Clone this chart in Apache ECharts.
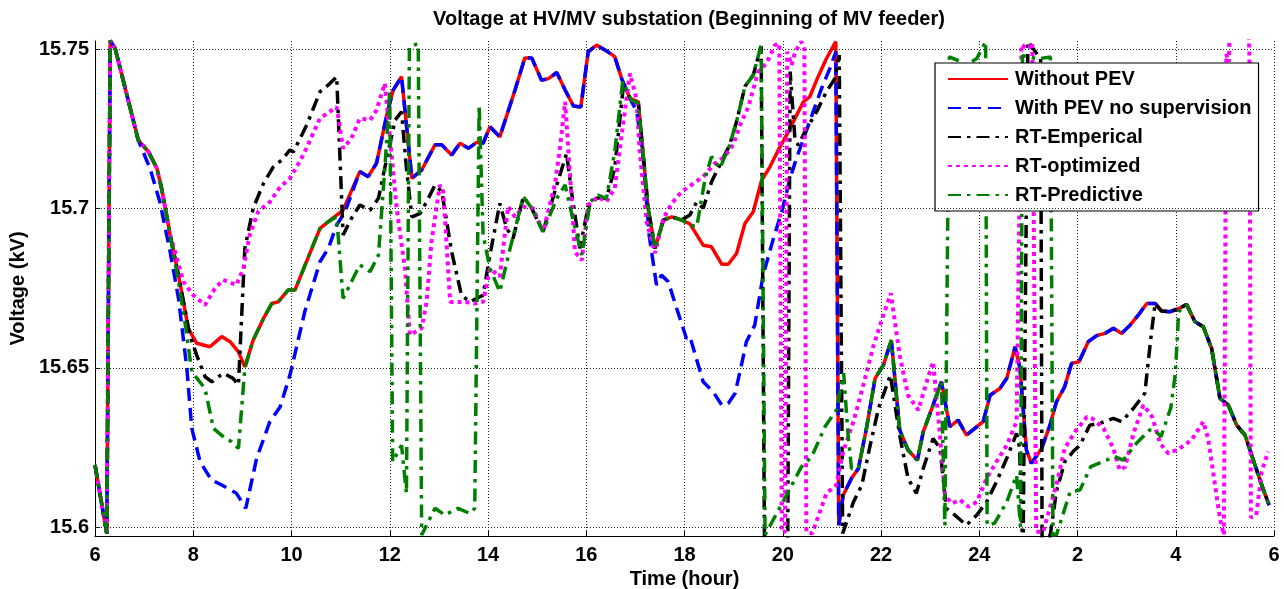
<!DOCTYPE html>
<html>
<head>
<meta charset="utf-8">
<script src="https://cdn.jsdelivr.net/npm/echarts@6/dist/echarts.min.js"></script>
<style>
  html, body { margin: 0; padding: 0; background: #fff; }
  #cn { width: 1284px; height: 589px; }
</style>
</head>
<body>
<div id="cn"></div>
<script>
'use strict';

// time in hours (24+ = next morning), voltage in kV
const noPev = [
    [6.0, 15.6195], [6.24, 15.598], [6.31, 15.7527], [6.41, 15.7503], [6.88, 15.7215], [7.09, 15.7178],
    [7.26, 15.7126], [7.36, 15.706], [7.53, 15.6917], [7.70, 15.679], [7.90, 15.6624], [8.07, 15.6577],
    [8.34, 15.6566], [8.58, 15.6598], [8.75, 15.6582], [8.92, 15.655], [9.05, 15.6503], [9.22, 15.6587],
    [9.43, 15.6655], [9.60, 15.6702], [9.73, 15.6707], [9.93, 15.6744], [10.07, 15.6744], [10.58, 15.6938],
    [10.75, 15.6959], [11.05, 15.6995], [11.39, 15.7116], [11.56, 15.71], [11.73, 15.7142], [11.94, 15.7294],
    [12.07, 15.7372], [12.24, 15.7414], [12.45, 15.7095], [12.65, 15.7121], [12.92, 15.72], [13.06, 15.72],
    [13.26, 15.7168], [13.43, 15.7205], [13.60, 15.7189], [13.77, 15.7208], [13.90, 15.7205], [14.04, 15.7257],
    [14.24, 15.7225], [14.55, 15.7372], [14.75, 15.7473], [14.89, 15.7473], [15.09, 15.7403], [15.23, 15.7408],
    [15.40, 15.7427], [15.57, 15.7372], [15.74, 15.7322], [15.89, 15.7319], [16.04, 15.7492], [16.21, 15.7513],
    [16.38, 15.7498], [16.58, 15.7477], [16.72, 15.7408], [16.89, 15.7346], [17.06, 15.7335], [17.26, 15.7001],
    [17.40, 15.6875], [17.57, 15.6964], [17.74, 15.6974], [17.94, 15.6964], [18.11, 15.6952], [18.38, 15.6885],
    [18.55, 15.688], [18.76, 15.6825], [18.89, 15.6825], [19.06, 15.6859], [19.23, 15.6953], [19.40, 15.699],
    [19.57, 15.7089], [19.74, 15.7131], [19.91, 15.7184], [20.08, 15.7231], [20.25, 15.7283], [20.42, 15.7335],
    [20.55, 15.7351], [20.72, 15.7414], [20.89, 15.7471], [21.08, 15.7524], [21.14, 15.6006], [21.23, 15.61],
    [21.40, 15.6153], [21.54, 15.6184], [21.71, 15.6315], [21.88, 15.6467], [22.05, 15.6509], [22.21, 15.6587],
    [22.38, 15.6305], [22.55, 15.6242], [22.74, 15.621], [22.86, 15.6299], [23.06, 15.6383], [23.23, 15.6456],
    [23.40, 15.6315], [23.57, 15.6336], [23.74, 15.6289], [23.91, 15.631], [24.08, 15.6331], [24.22, 15.6414],
    [24.42, 15.6435], [24.56, 15.6467], [24.73, 15.6566], [24.83, 15.6498], [24.96, 15.6242], [25.06, 15.62],
    [25.27, 15.6247], [25.44, 15.632], [25.57, 15.6393], [25.74, 15.6441], [25.88, 15.6514], [26.03, 15.6519],
    [26.22, 15.6582], [26.39, 15.6601], [26.56, 15.6608], [26.73, 15.6624], [26.90, 15.6608], [27.07, 15.6634],
    [27.24, 15.6666], [27.41, 15.6702], [27.58, 15.6702], [27.71, 15.6678], [27.88, 15.6676], [28.08, 15.6687],
    [28.22, 15.6699], [28.39, 15.6645], [28.56, 15.6629], [28.73, 15.6561], [28.90, 15.6404], [29.07, 15.6383],
    [29.24, 15.632], [29.41, 15.6289], [29.58, 15.621], [29.75, 15.6132], [29.90, 15.6069]
];

const withPev = [
    [6.0, 15.6195], [6.24, 15.598], [6.31, 15.7527], [6.41, 15.7503], [6.88, 15.7215], [7.12, 15.7126],
    [7.32, 15.7021], [7.53, 15.6864], [7.70, 15.6718], [7.87, 15.6498], [7.97, 15.631], [8.14, 15.6205],
    [8.37, 15.6148], [8.58, 15.6132], [8.88, 15.6106], [9.07, 15.6059], [9.29, 15.6216], [9.56, 15.6331],
    [9.77, 15.6378], [9.97, 15.6478], [10.27, 15.6676], [10.58, 15.6833], [10.75, 15.6875], [10.92, 15.6948],
    [11.09, 15.699], [11.39, 15.7116], [11.56, 15.71], [11.73, 15.7142], [11.94, 15.7294], [12.07, 15.7372],
    [12.24, 15.7414], [12.45, 15.7095], [12.65, 15.7121], [12.92, 15.72], [13.06, 15.72], [13.26, 15.7168],
    [13.43, 15.7205], [13.60, 15.7189], [13.77, 15.7208], [13.90, 15.7205], [14.04, 15.7257], [14.24, 15.7225],
    [14.55, 15.7372], [14.75, 15.7473], [14.89, 15.7473], [15.09, 15.7403], [15.23, 15.7408], [15.40, 15.7427],
    [15.57, 15.7372], [15.74, 15.7322], [15.89, 15.7319], [16.04, 15.7492], [16.21, 15.7513], [16.38, 15.7498],
    [16.58, 15.7477], [16.72, 15.7408], [16.89, 15.7346], [17.03, 15.7304], [17.16, 15.7158], [17.28, 15.6917],
    [17.43, 15.676], [17.53, 15.6791], [17.67, 15.677], [17.84, 15.6687], [18.04, 15.6592], [18.11, 15.6598],
    [18.38, 15.6456], [18.58, 15.6425], [18.76, 15.6383], [18.89, 15.6388], [19.03, 15.642], [19.16, 15.6509],
    [19.26, 15.6582], [19.43, 15.6634], [19.60, 15.6791], [19.81, 15.6906], [19.98, 15.699], [20.15, 15.7095],
    [20.28, 15.7158], [20.45, 15.7231], [20.62, 15.7304], [20.79, 15.7377], [20.96, 15.744], [21.08, 15.7492],
    [21.14, 15.6006], [21.23, 15.61], [21.40, 15.6153], [21.54, 15.6184], [21.71, 15.6315], [21.88, 15.6467],
    [22.05, 15.6509], [22.21, 15.6587], [22.38, 15.6305], [22.55, 15.6242], [22.74, 15.621], [22.86, 15.6299],
    [23.06, 15.6383], [23.23, 15.6456], [23.40, 15.6315], [23.57, 15.6336], [23.74, 15.6289], [23.91, 15.631],
    [24.08, 15.6331], [24.22, 15.6414], [24.42, 15.6435], [24.56, 15.6467], [24.73, 15.6566], [24.83, 15.6498],
    [24.96, 15.6242], [25.06, 15.62], [25.27, 15.6247], [25.44, 15.632], [25.57, 15.6393], [25.74, 15.6441],
    [25.88, 15.6514], [26.03, 15.6519], [26.22, 15.6582], [26.39, 15.6601], [26.56, 15.6608], [26.73, 15.6624],
    [26.90, 15.6608], [27.07, 15.6634], [27.24, 15.6666], [27.41, 15.6702], [27.58, 15.6702], [27.71, 15.6678],
    [27.88, 15.6676], [28.08, 15.6687], [28.22, 15.6699], [28.39, 15.6645], [28.56, 15.6629], [28.73, 15.6561],
    [28.90, 15.6404], [29.07, 15.6383], [29.24, 15.632], [29.41, 15.6289], [29.58, 15.621], [29.75, 15.6132],
    [29.90, 15.6069]
];

const rtEmpirical = [
    [6.0, 15.6195], [6.24, 15.598], [6.31, 15.7527], [6.41, 15.7503], [6.88, 15.7215], [7.09, 15.7178],
    [7.26, 15.7126], [7.36, 15.706], [7.53, 15.6917], [7.70, 15.679], [7.93, 15.6603], [8.07, 15.654],
    [8.24, 15.6472], [8.38, 15.6456], [8.61, 15.6483], [8.81, 15.6467], [8.92, 15.6446], [9.05, 15.6875],
    [9.22, 15.7001], [9.43, 15.7079], [9.63, 15.7131], [9.80, 15.7152], [9.97, 15.7184], [10.04, 15.7178],
    [10.31, 15.7262], [10.58, 15.7367], [10.75, 15.7388], [10.92, 15.7414], [11.05, 15.6917], [11.22, 15.6969],
    [11.39, 15.7011], [11.60, 15.6995], [11.77, 15.7032], [11.94, 15.7158], [12.11, 15.7278], [12.24, 15.7304],
    [12.34, 15.7126], [12.45, 15.6974], [12.62, 15.6985], [12.75, 15.7021], [12.92, 15.7074], [13.06, 15.7053],
    [13.26, 15.6864], [13.46, 15.6728], [13.63, 15.6707], [13.90, 15.6728], [14.04, 15.6854], [14.24, 15.7016],
    [14.38, 15.6938], [14.51, 15.6906], [14.72, 15.7037], [14.89, 15.7001], [15.12, 15.6927], [15.40, 15.7074],
    [15.60, 15.7173], [15.70, 15.7053], [15.87, 15.6875], [16.04, 15.7006], [16.21, 15.7032], [16.41, 15.7032],
    [16.58, 15.7126], [16.75, 15.7377], [16.92, 15.734], [17.06, 15.733], [17.26, 15.7001], [17.40, 15.6875],
    [17.57, 15.6964], [17.74, 15.6974], [17.94, 15.6964], [18.11, 15.698], [18.25, 15.7021], [18.38, 15.7001],
    [18.55, 15.7084], [18.72, 15.7137], [18.92, 15.72], [19.06, 15.7273], [19.23, 15.7383], [19.40, 15.7419],
    [19.56, 15.751], [19.63, 15.59], [20.10, 15.59], [20.15, 15.743], [20.25, 15.7215], [20.32, 15.7199],
    [20.45, 15.7241], [20.69, 15.7304], [20.89, 15.7367], [21.06, 15.7408], [21.15, 15.7482], [21.22, 15.598],
    [21.44, 15.6079], [21.61, 15.6132], [21.78, 15.6257], [21.95, 15.6373], [22.19, 15.6477], [22.38, 15.6289],
    [22.55, 15.6153], [22.72, 15.6106], [22.86, 15.6184], [23.06, 15.6278], [23.20, 15.6247], [23.33, 15.6059],
    [23.50, 15.6038], [23.74, 15.6006], [23.95, 15.6038], [24.15, 15.6079], [24.35, 15.6142], [24.56, 15.6216],
    [24.76, 15.6294], [24.82, 15.625], [24.89, 15.59], [24.99, 15.7525], [25.25, 15.747], [25.28, 15.59],
    [25.45, 15.598], [25.57, 15.6111], [25.74, 15.6205], [25.91, 15.6237], [26.05, 15.6257], [26.25, 15.632],
    [26.46, 15.6326], [26.73, 15.6341], [26.90, 15.6331], [27.14, 15.6373], [27.37, 15.642], [27.50, 15.6603],
    [27.58, 15.6702], [27.71, 15.6678], [27.88, 15.6676], [28.08, 15.6687], [28.22, 15.6699], [28.39, 15.6645],
    [28.56, 15.6629], [28.73, 15.6561], [28.90, 15.6404], [29.07, 15.6383], [29.24, 15.632], [29.41, 15.6289],
    [29.58, 15.621], [29.75, 15.6132], [29.90, 15.6069]
];

const rtOptimized = [
    [6.0, 15.6195], [6.24, 15.598], [6.31, 15.7527], [6.41, 15.7503], [6.88, 15.7215], [7.09, 15.7178],
    [7.26, 15.7126], [7.36, 15.706], [7.53, 15.6917], [7.63, 15.6864], [7.80, 15.677], [8.0, 15.6728],
    [8.24, 15.6697], [8.44, 15.6749], [8.61, 15.6776], [8.88, 15.676], [9.02, 15.6812], [9.15, 15.6917],
    [9.32, 15.699], [9.56, 15.7021], [9.77, 15.7068], [9.97, 15.7095], [10.24, 15.7168], [10.58, 15.7283],
    [10.92, 15.7319], [11.05, 15.7189], [11.22, 15.722], [11.39, 15.7283], [11.60, 15.7278], [11.73, 15.7309],
    [11.90, 15.7393], [12.0, 15.7231], [12.14, 15.7001], [12.31, 15.6812], [12.41, 15.6603], [12.65, 15.6624],
    [12.75, 15.6707], [12.85, 15.6896], [13.02, 15.7074], [13.09, 15.7053], [13.23, 15.6707], [13.53, 15.6707],
    [13.73, 15.6702], [13.90, 15.6707], [14.04, 15.6812], [14.24, 15.6786], [14.41, 15.7006], [14.55, 15.6974],
    [14.72, 15.7006], [14.92, 15.7001], [15.12, 15.6927], [15.36, 15.7074], [15.46, 15.7184], [15.57, 15.7335],
    [15.67, 15.7105], [15.77, 15.6864], [15.91, 15.6838], [16.04, 15.7011], [16.24, 15.7037], [16.41, 15.7021],
    [16.58, 15.7063], [16.72, 15.7231], [16.89, 15.7424], [17.02, 15.7346], [17.09, 15.7178], [17.23, 15.6959],
    [17.40, 15.686], [17.57, 15.6969], [17.74, 15.7016], [17.94, 15.7053], [18.11, 15.7071], [18.38, 15.71],
    [18.62, 15.7142], [18.82, 15.7163], [18.99, 15.72], [19.13, 15.7262], [19.30, 15.7319], [19.50, 15.743],
    [19.67, 15.7456], [19.84, 15.7513], [19.93, 15.7518], [19.98, 15.5985], [20.05, 15.5985], [20.09, 15.7492],
    [20.18, 15.745], [20.25, 15.7492], [20.38, 15.7524], [20.44, 15.75], [20.48, 15.5985], [20.60, 15.598],
    [20.89, 15.6106], [21.09, 15.6132], [21.23, 15.6237], [21.44, 15.6331], [21.64, 15.6446], [21.85, 15.6571],
    [22.05, 15.6666], [22.20, 15.6734], [22.38, 15.654], [22.55, 15.6414], [22.76, 15.6367], [22.93, 15.6456],
    [23.06, 15.6519], [23.20, 15.6289], [23.30, 15.61], [23.44, 15.6074], [23.61, 15.6085], [23.78, 15.6064],
    [23.95, 15.6079], [24.15, 15.6153], [24.35, 15.6205], [24.56, 15.6257], [24.76, 15.6331], [24.86, 15.7515],
    [25.0, 15.75], [25.08, 15.752], [25.16, 15.5985], [25.30, 15.5985], [25.57, 15.6132], [25.74, 15.6247],
    [25.95, 15.6299], [26.19, 15.6346], [26.30, 15.6341], [26.53, 15.631], [26.73, 15.6247], [26.86, 15.6179],
    [26.97, 15.6189], [27.14, 15.6294], [27.34, 15.6383], [27.52, 15.6346], [27.68, 15.6263], [27.85, 15.6231],
    [28.08, 15.6247], [28.32, 15.6273], [28.56, 15.6331], [28.66, 15.6278], [28.80, 15.6132], [28.90, 15.6027],
    [28.98, 15.5975], [29.03, 15.7485], [29.08, 15.746], [29.12, 15.77], [29.46, 15.77], [29.50, 15.748],
    [29.53, 15.603], [29.64, 15.6038], [29.75, 15.6174], [29.88, 15.6237]
];

const rtPredictive = [
    [6.0, 15.6195], [6.24, 15.598], [6.31, 15.7527], [6.41, 15.7503], [6.88, 15.7215], [7.09, 15.7178],
    [7.26, 15.7126], [7.36, 15.706], [7.53, 15.6917], [7.70, 15.677], [7.83, 15.6645], [7.97, 15.6488],
    [8.10, 15.6462], [8.24, 15.6435], [8.41, 15.631], [8.61, 15.6284], [8.78, 15.6268], [8.92, 15.6247],
    [9.05, 15.6498], [9.22, 15.6587], [9.43, 15.6655], [9.60, 15.6702], [9.73, 15.6707], [9.93, 15.6744],
    [10.07, 15.6744], [10.58, 15.6938], [10.75, 15.6959], [10.92, 15.6974], [11.05, 15.6718], [11.39, 15.6823],
    [11.60, 15.6802], [11.77, 15.6854], [11.90, 15.7126], [12.0, 15.7367], [12.06, 15.6205], [12.24, 15.6257],
    [12.34, 15.6106], [12.40, 15.7508], [12.58, 15.7518], [12.65, 15.5975], [12.92, 15.6059], [13.12, 15.6038],
    [13.39, 15.6059], [13.63, 15.6043], [13.73, 15.6059], [13.82, 15.7325], [13.90, 15.6917], [14.04, 15.6812],
    [14.24, 15.6739], [14.45, 15.6875], [14.72, 15.7037], [14.89, 15.7001], [15.12, 15.6927], [15.40, 15.7032],
    [15.57, 15.7074], [15.74, 15.6959], [15.91, 15.6854], [16.08, 15.7021], [16.24, 15.7042], [16.41, 15.7032],
    [16.58, 15.7178], [16.74, 15.7398], [16.92, 15.734], [17.06, 15.733], [17.26, 15.7001], [17.40, 15.6875],
    [17.57, 15.6964], [17.74, 15.6974], [17.94, 15.6964], [18.11, 15.6948], [18.25, 15.6943], [18.42, 15.7095],
    [18.55, 15.7163], [18.72, 15.7126], [18.92, 15.72], [19.06, 15.7273], [19.23, 15.7383], [19.40, 15.7419],
    [19.56, 15.7513], [19.64, 15.5975], [20.04, 15.609], [20.38, 15.6189], [20.59, 15.6221], [20.86, 15.6315],
    [21.09, 15.6367], [21.24, 15.6483], [21.33, 15.6289], [21.40, 15.6184], [21.54, 15.6184], [21.71, 15.6315],
    [21.88, 15.6467], [22.05, 15.6509], [22.21, 15.6587], [22.38, 15.6305], [22.55, 15.6242], [22.74, 15.621],
    [22.86, 15.6299], [23.06, 15.6383], [23.23, 15.6456], [23.30, 15.6006], [23.39, 15.7476], [23.55, 15.7466],
    [23.74, 15.745], [23.95, 15.7471], [24.13, 15.7524], [24.16, 15.6006], [24.31, 15.6012], [24.56, 15.6079],
    [24.76, 15.6163], [24.84, 15.60], [24.88, 15.748], [25.20, 15.747], [25.45, 15.7476], [25.50, 15.5975],
    [25.57, 15.5975], [25.85, 15.6111], [26.05, 15.6116], [26.27, 15.619], [26.59, 15.621], [26.76, 15.6221],
    [26.93, 15.621], [27.20, 15.6263], [27.47, 15.6305], [27.57, 15.6305], [27.70, 15.6284], [27.90, 15.6375],
    [27.99, 15.648], [28.06, 15.6676], [28.22, 15.6699], [28.39, 15.6645], [28.56, 15.6629], [28.73, 15.6561],
    [28.90, 15.6404], [29.07, 15.6383], [29.24, 15.632], [29.41, 15.6289], [29.58, 15.621], [29.75, 15.6132],
    [29.90, 15.6069]
];

const yTicks = [15.6, 15.65, 15.7, 15.75];
const seriesNames = ['Without PEV', 'With PEV no supervision', 'RT-Emperical', 'RT-optimized', 'RT-Predictive'];

const FONT = 'Liberation Sans';
const chart = echarts.init(document.getElementById('cn'), null, { renderer: 'canvas' });

const lineSeries = (name, data, color, type, width) => ({
    name: name,
    type: 'line',
    data: data,
    symbol: 'none',
    clip: true,
    itemStyle: { color: color },
    lineStyle: { color: color, width: width, type: type, cap: 'butt' },
    emphasis: { disabled: true }
});

const option = {
    animation: false,
    backgroundColor: '#fff',
    title: {
        text: 'Voltage at HV/MV substation (Beginning of MV feeder)',
        left: 684,
        textAlign: 'center',
        top: 4,
        textStyle: { fontFamily: FONT, fontWeight: 'bold', fontSize: 20, color: '#000' }
    },
    grid: { left: 95, right: 10, top: 41, bottom: 53, outerBoundsMode: 'none', containLabel: false },
    legend: {
        data: seriesNames,
        orient: 'vertical',
        left: 935,
        top: 63,
        itemWidth: 60,
        itemHeight: 20,
        itemGap: 9,
        padding: [6, 7, 6, 12],
        backgroundColor: '#fff',
        borderColor: '#000',
        borderWidth: 1.2,
        borderRadius: 0,
        itemStyle: { opacity: 0 },
        textStyle: { fontFamily: FONT, fontWeight: 'bold', fontSize: 20, color: '#000', padding: [0, 0, 0, 2] }
    },
    xAxis: {
        type: 'value',
        min: 6,
        max: 30,
        interval: 2,
        name: 'Time (hour)',
        nameLocation: 'middle',
        nameGap: 32,
        nameTextStyle: { fontFamily: FONT, fontWeight: 'bold', fontSize: 20, color: '#000' },
        axisLine: { show: true, onZero: false, lineStyle: { color: '#000', width: 1 } },
        axisTick: { show: true, inside: true, length: 5, lineStyle: { color: '#000' } },
        axisLabel: {
            margin: 9,
            fontFamily: FONT, fontWeight: 'bold', fontSize: 20, color: '#000',
            formatter: v => String(v > 24 ? v - 24 : v)
        },
        splitLine: { show: true, lineStyle: { color: '#222', width: 1, type: [1, 2] } }
    },
    yAxis: {
        type: 'value',
        min: 15.5972,
        max: 15.7526,
        name: 'Voltage (kV)',
        nameLocation: 'middle',
        nameGap: 66,
        nameTextStyle: { fontFamily: FONT, fontWeight: 'bold', fontSize: 20, color: '#000' },
        axisLine: { show: true, onZero: false, lineStyle: { color: '#000', width: 1 } },
        axisTick: { show: true, inside: true, length: 5, customValues: yTicks, lineStyle: { color: '#000' } },
        axisLabel: {
            margin: 6,
            customValues: yTicks,
            fontFamily: FONT, fontWeight: 'bold', fontSize: 20, color: '#000',
            formatter: v => String(+v.toFixed(2))
        },
        splitLine: { show: false }
    },
    series: [
        {
            name: 'grid',
            type: 'line',
            data: [],
            silent: true,
            markLine: {
                silent: true,
                symbol: 'none',
                label: { show: false },
                lineStyle: { color: '#222', width: 1, type: [1, 2] },
                data: yTicks.map(v => ({ yAxis: v }))
            }
        },
        lineSeries(seriesNames[0], noPev, '#ff0000', 'solid', 3.5),
        lineSeries(seriesNames[1], withPev, '#0000ff', [13, 7], 3.5),
        lineSeries(seriesNames[2], rtEmpirical, '#000000', [13, 6, 3.5, 6], 3.5),
        lineSeries(seriesNames[3], rtOptimized, '#ff00ff', [4, 4], 4),
        lineSeries(seriesNames[4], rtPredictive, '#008000', [13, 6, 3.5, 6], 3.5)
    ]
};

chart.setOption(option);
</script>
</body>
</html>
